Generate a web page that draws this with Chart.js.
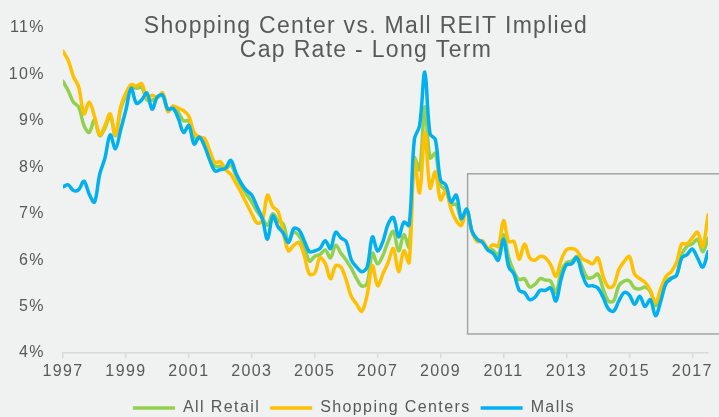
<!DOCTYPE html>
<html>
<head>
<meta charset="utf-8">
<script src="https://cdn.jsdelivr.net/npm/chart.js@4.4.1/dist/chart.umd.min.js"></script>
<style>
  html, body { margin: 0; padding: 0; background: #f0f1f1; }
  #wrap { position: relative; width: 719px; height: 417px; }
</style>
</head>
<body>
<div id="wrap"><canvas id="chart"></canvas></div>
<script>
// Judul dan label
const titleLines = ["Shopping Center vs. Mall REIT Implied", "Cap Rate - Long Term"];
const seriesNames = ["All Retail", "Shopping Centers", "Malls"];
const tickYears = [1997, 1999, 2001, 2003, 2005, 2007, 2009, 2011, 2013, 2015, 2017];

// Data tiap 2 bulan (Jan, Mar, Mei, Jul, Sep, Nov), mulai Jan 1997
const startYear = 1997;
const pointsPerYear = 6;

const allRetail = [
  9.85, 9.65, 9.4, 9.3, 8.9, 8.75,     // 1997
  9.02, 8.68, 8.85, 9.1, 8.68, 9.25,   // 1998
  9.55, 9.75, 9.7, 9.72, 9.45, 9.45,   // 1999
  9.5, 9.58, 9.22, 9.3, 9.18, 9.0,     // 2000
  9.0, 8.62, 8.65, 8.55, 8.25, 8.02,   // 2001
  8.02, 7.97, 8.05, 7.82, 7.6, 7.42,   // 2002
  7.25, 7.05, 6.9, 6.75, 7.0, 6.85,    // 2003
  6.78, 6.4, 6.6, 6.52, 6.3, 5.98,     // 2004
  6.08, 6.12, 6.22, 6.05, 6.32, 6.15,  // 2005
  6.0, 5.82, 5.6, 5.44, 5.5, 6.15,     // 2006
  5.92, 6.1, 6.4, 6.62, 6.2, 6.55,     // 2007
  6.28, 8.2, 7.95, 9.3, 8.2, 8.3,      // 2008
  7.62, 7.5, 7.2, 7.2, 6.85, 7.08,     // 2009
  6.62, 6.42, 6.4, 6.23, 6.22, 6.1,    // 2010
  6.55, 6.05, 5.75, 5.58, 5.6, 5.42,   // 2011
  5.48, 5.6, 5.57, 5.55, 5.3, 5.75,    // 2012
  5.95, 5.98, 6.08, 5.85, 5.62, 5.63,  // 2013
  5.7, 5.38, 5.12, 5.12, 5.45, 5.55,   // 2014
  5.55, 5.4, 5.38, 5.42, 5.32, 5.02,   // 2015
  5.2, 5.55, 5.62, 5.66, 6.12, 6.3,    // 2016
  6.35, 6.45, 6.18, 6.47               // 2017
];

const shoppingCenters = [
  10.5, 10.3, 9.95, 9.73, 9.15, 9.4,   // 1997
  9.1, 8.7, 8.9, 9.15, 8.7, 9.3,       // 1998
  9.6, 9.78, 9.75, 9.8, 9.5, 9.55,     // 1999
  9.5, 9.6, 9.2, 9.32, 9.27, 9.22,     // 2000
  9.1, 8.75, 8.65, 8.62, 8.35, 8.1,    // 2001
  8.12, 7.95, 7.85, 7.65, 7.45, 7.22,  // 2002
  7.0, 6.8, 6.85, 7.4, 7.15, 7.05,     // 2003
  6.6, 6.2, 6.32, 6.38, 6.1, 5.7,      // 2004
  5.72, 6.05, 5.93, 5.6, 5.88, 5.85,   // 2005
  5.57, 5.21, 5.05, 4.9, 5.25, 5.88,   // 2006
  5.45, 5.7, 5.95, 6.25, 5.75, 6.2,    // 2007
  5.95, 8.15, 7.45, 8.75, 7.55, 7.9,   // 2008
  7.3, 7.5, 7.1, 6.85, 6.75, 7.1,      // 2009
  6.62, 6.4, 6.42, 6.25, 6.33, 6.3,    // 2010
  6.85, 6.4, 6.4, 6.02, 6.35, 6.05,    // 2011
  6.0, 6.08, 6.05, 5.9, 5.65, 6.0,     // 2012
  6.22, 6.25, 6.2, 6.03, 5.98, 5.92,   // 2013
  6.05, 5.65, 5.42, 5.45, 5.8, 5.97,   // 2014
  6.08, 5.7, 5.6, 5.52, 5.35, 5.08,    // 2015
  5.39, 5.65, 5.75, 5.95, 6.35, 6.35,  // 2016
  6.48, 6.6, 6.3, 6.97                 // 2017
];

const malls = [
  7.58, 7.62, 7.5, 7.52, 7.7, 7.42,    // 1997
  7.25, 7.85, 8.2, 8.7, 8.4, 8.81,     // 1998
  9.24, 9.7, 9.38, 9.45, 9.6, 9.25,    // 1999
  9.52, 9.55, 9.25, 9.27, 9.05, 8.75,  // 2000
  8.9, 8.5, 8.65, 8.45, 8.15, 7.92,    // 2001
  7.95, 7.98, 8.15, 7.87, 7.65, 7.5,   // 2002
  7.4, 7.15, 6.9, 6.45, 6.95, 6.72,    // 2003
  6.58, 6.38, 6.68, 6.65, 6.42, 6.18,  // 2004
  6.2, 6.25, 6.42, 6.25, 6.6, 6.48,    // 2005
  6.4, 6.0, 5.85, 5.75, 5.85, 6.5,     // 2006
  6.2, 6.4, 6.78, 6.92, 6.5, 6.82,     // 2007
  6.75, 8.6, 8.9, 10.05, 8.72, 8.6,    // 2008
  7.72, 7.62, 7.25, 7.4, 6.9, 7.1,     // 2009
  6.62, 6.45, 6.38, 6.22, 6.15, 6.0,   // 2010
  6.45, 5.85, 5.7, 5.35, 5.3, 5.15,    // 2011
  5.2, 5.35, 5.35, 5.4, 5.12, 5.6,     // 2012
  5.9, 5.92, 6.05, 5.7, 5.45, 5.45,    // 2013
  5.4, 5.2, 4.95, 4.9, 5.12, 5.3,      // 2014
  5.25, 5.05, 5.22, 5.0, 5.15, 4.8,    // 2015
  5.12, 5.5, 5.6, 5.68, 6.05, 6.12,    // 2016
  6.24, 6.05, 5.85, 6.18               // 2017
];

// Kotak abu-abu (periode yang disorot)
const boxStart = 2009.86;
const boxTop = 7.86;
const boxBottom = 4.41;

const textColor = "#595959";

// ubah array nilai jadi titik {x: tahun, y: nilai}
function toPoints(values) {
  return values.map(function (v, i) {
    return { x: startYear + i / pointsPerYear, y: v };
  });
}

// Plugin kecil: spasi huruf, kotak, dan judul
const decorPlugin = {
  id: "decor",
  beforeUpdate(chart) {
    chart.ctx.letterSpacing = "1.4px";
  },
  beforeDraw(chart) {
    chart.ctx.letterSpacing = "1.4px";
  },
  beforeDatasetsDraw(chart) {
    const ctx = chart.ctx;
    const x = chart.scales.x;
    const y = chart.scales.y;
    const left = x.getPixelForValue(boxStart);
    const top = y.getPixelForValue(boxTop);
    const bottom = y.getPixelForValue(boxBottom);
    ctx.save();
    ctx.strokeStyle = "#a5a5a5";
    ctx.lineWidth = 1.5;
    ctx.strokeRect(left, top, chart.width + 10 - left, bottom - top);
    ctx.restore();
  },
  afterDraw(chart) {
    const ctx = chart.ctx;
    ctx.save();
    ctx.letterSpacing = "1.3px";
    ctx.fillStyle = textColor;
    ctx.font = "23px 'Liberation Sans', Arial, sans-serif";
    ctx.textAlign = "center";
    ctx.textBaseline = "alphabetic";
    ctx.fillText(titleLines[0], 366, 33);
    ctx.fillText(titleLines[1], 366, 56.5);
    ctx.restore();
  },
};

const tickFont = { family: "'Liberation Sans', Arial, sans-serif", size: 16 };

new Chart(document.getElementById("chart"), {
  type: "line",
  data: {
    datasets: [
      {
        label: seriesNames[0],
        data: toPoints(allRetail),
        borderColor: "#92d050",
        backgroundColor: "#92d050",
        borderWidth: 3.5,
        order: 2,
      },
      {
        label: seriesNames[1],
        data: toPoints(shoppingCenters),
        borderColor: "#ffc000",
        backgroundColor: "#ffc000",
        borderWidth: 3.5,
        order: 1,
      },
      {
        label: seriesNames[2],
        data: toPoints(malls),
        borderColor: "#00b0f0",
        backgroundColor: "#00b0f0",
        borderWidth: 3.5,
        order: 0,
      },
    ],
  },
  options: {
    responsive: true,
    maintainAspectRatio: false,
    animation: false,
    layout: { padding: { top: 28, right: 11, bottom: -9, left: 0 } },
    elements: {
      point: { radius: 0 },
      line: { tension: 0.35, fill: false, borderCapStyle: "round", borderJoinStyle: "round" },
    },
    plugins: {
      title: { display: false },
      tooltip: { enabled: false },
      legend: {
        position: "bottom",
        labels: {
          font: tickFont,
          color: textColor,
          usePointStyle: true,
          pointStyle: "line",
          pointStyleWidth: 42,
          padding: 10,
          sort: function (a, b) {
            return a.datasetIndex - b.datasetIndex;
          },
        },
      },
    },
    scales: {
      x: {
        type: "linear",
        min: 1997,
        max: 2017.5,
        afterBuildTicks: function (scale) {
          scale.ticks = tickYears.map(function (v) {
            return { value: v };
          });
        },
        afterFit: function (scale) {
          scale.height = 37;
        },
        grid: { display: true, drawOnChartArea: false, drawTicks: true, tickLength: 5, color: "#d9d9d9", lineWidth: 1.5 },
        border: { display: true, color: "#d9d9d9", width: 1.5 },
        ticks: {
          autoSkip: false,
          maxRotation: 0,
          padding: 4,
          font: tickFont,
          color: textColor,
          callback: function (v) {
            return String(v);
          },
        },
      },
      y: {
        min: 4,
        max: 11,
        afterFit: function (scale) {
          scale.width = 63;
        },
        grid: { display: false, drawTicks: false },
        border: { display: false },
        ticks: {
          stepSize: 1,
          padding: 18,
          font: tickFont,
          color: textColor,
          callback: function (v) {
            return v + "%";
          },
        },
      },
    },
  },
  plugins: [decorPlugin],
});
</script>
</body>
</html>
